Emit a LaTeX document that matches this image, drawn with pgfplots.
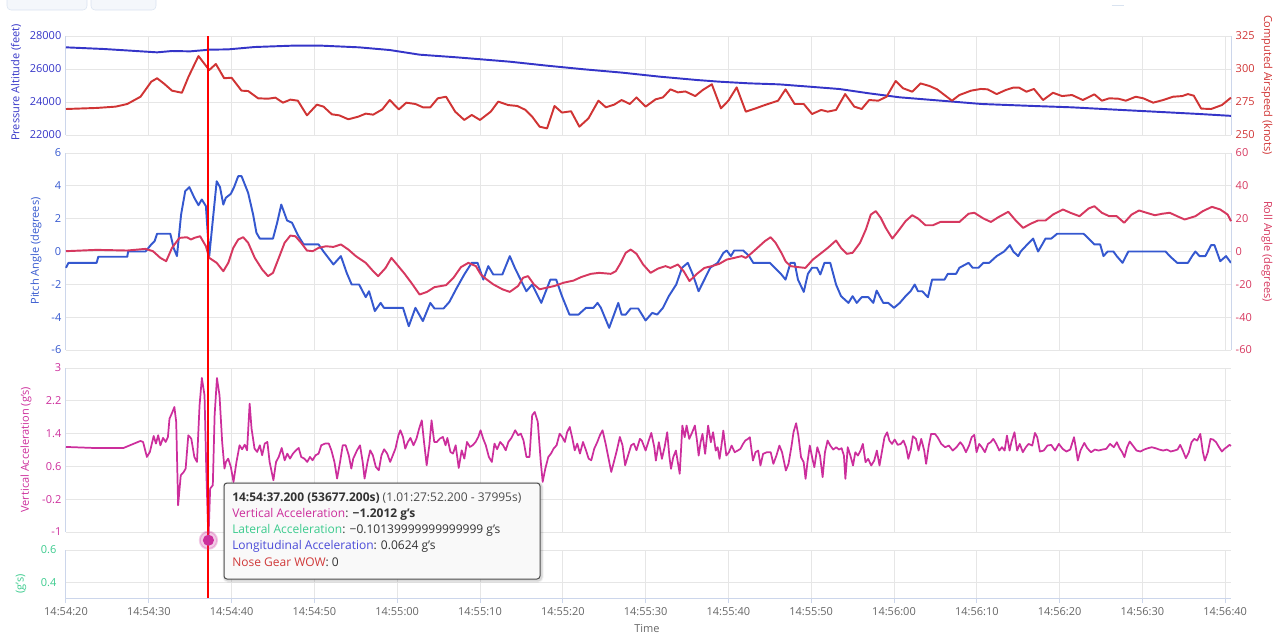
\documentclass[border=0pt]{standalone}
\usepackage{fontspec}
\setmainfont{Open Sans}
\usepackage{pgfplots}
\pgfplotsset{compat=1.18}
\definecolor{altc}{HTML}{3535C8}
\definecolor{iasc}{HTML}{D03434}
\definecolor{pitc}{HTML}{3558CF}
\definecolor{rolc}{HTML}{D6385F}
\definecolor{vacc}{HTML}{CC2E9C}
\definecolor{latc}{HTML}{3CCB8E}
\definecolor{lonc}{HTML}{4A4AD8}
\definecolor{nosec}{HTML}{D03A3A}
\definecolor{gridc}{HTML}{E6E6E6}
\definecolor{axisc}{HTML}{CCD6EB}
\definecolor{tickc}{HTML}{666666}
\definecolor{tipb}{HTML}{4D4D4D}
\definecolor{tipf}{HTML}{F9F9F9}
\definecolor{tipt}{HTML}{333333}
\definecolor{btnf}{HTML}{F4F7FB}
\definecolor{btnb}{HTML}{D9E3F0}
\newcommand{\tickfont}{\fontsize{8.25}{9.5}\selectfont}
\newcommand{\tipfont}{\fontsize{9}{10.5}\selectfont}
\pgfplotsset{
  panel/.style={
    scale only axis, width=873.75pt, anchor=north west,
    xmin=0, xmax=140.7, xtick={0,10,...,140}, xticklabels={},
    xmajorgrids, ymajorgrids,
    major grid style={draw=gridc, line width=0.75pt},
    axis x line*=bottom, axis y line*=left,
    axis line style={-},
    x axis line style={draw=none},
    y axis line style={draw=axisc, line width=0.75pt},
    major tick length=0pt, tick style={draw=none},
    scaled y ticks=false,
    /pgf/number format/assume math mode=true,
    /pgf/number format/1000 sep={},
    ticklabel style={font=\tickfont},
    label style={font=\tickfont},
    every axis plot/.append style={line width=1.45pt, line join=round, mark=none},
    clip=false,
  },
  panelR/.style={
    panel, axis y line*=right, axis x line=none,
    xmajorgrids=false, ymajorgrids=false,
  },
}
\begin{document}
\begin{tikzpicture}
\useasboundingbox (0pt,0pt) rectangle (964.5pt,-477.75pt);
% top controls
\draw[draw=btnb, fill=btnf, rounded corners=3pt] (5.25pt,3pt) rectangle (65.25pt,-7.5pt);
\draw[draw=btnb, fill=btnf, rounded corners=3pt] (68.25pt,3pt) rectangle (117pt,-7.5pt);
\draw[btnb, line width=0.75pt] (833.8pt,-4.3pt) -- (843pt,-4.3pt);

% ---------- panel 1 ----------
\begin{axis}[panel, at={(49.5pt,-27pt)}, height=74.25pt,
  ymin=22000, ymax=28000, ytick={22000,24000,26000,28000},
  yticklabels={22000,24000,26000,28000},
  yticklabel style={color=altc},
  ylabel={Pressure Altitude (feet)},
  ylabel style={at={(axis description cs:-0.0429,0.53)}, anchor=center, color=altc}]
\addplot[altc] table {
0 27313
4.6 27212
11 27010
12.8 27090
15 27070
17.3 27170
19.6 27190
22.8 27333
27.3 27414
30.9 27414
35.4 27313
39.1 27150
42.7 26869
47.2 26707
53.6 26444
58.1 26202
62.6 25980
67.2 25778
71.7 25536
76.2 25333
78.9 25232
82.5 25131
86.1 25070
89.8 24929
93.4 24788
97 24525
100.7 24283
105.2 24100
110.6 23879
116.9 23758
121.5 23677
126 23556
131.5 23414
136.9 23273
140.7 23160
};
\end{axis}
\begin{axis}[panelR, at={(49.5pt,-27pt)}, height=74.25pt,
  ymin=250, ymax=325, ytick={250,275,300,325},
  yticklabel style={color=iasc},
  ylabel={Computed Airspeed (knots)},
  ylabel style={at={(axis description cs:1.0309,0.505)}, anchor=center, rotate=180, color=iasc}]
\addplot[iasc] table {
0 269.7
3.7 270.5
6.0 271.5
7.4 273.5
9.0 279.0
10.3 290.4
11.0 293.0
11.9 288.6
12.8 283.6
14.0 282.0
14.8 294.2
16.0 309.8
17.3 299.2
18.1 303.8
19.1 293.0
20.0 293.4
21.2 283.6
22.0 283.3
23.2 277.8
24.4 277.5
25.3 278.3
26.2 274.5
27.1 276.8
28.0 276.0
29.1 264.9
30.3 273.0
31.1 271.5
32.1 265.7
33.0 264.9
34.1 261.9
35.3 263.9
36.2 266.2
37.1 265.4
38.2 269.4
39.1 276.5
40.2 269.4
41.1 274.5
42.2 273.5
43.1 271.0
44.0 271.0
44.9 277.8
45.9 279.0
47.0 267.7
48.1 261.4
49.0 265.2
50.0 261.4
51.3 267.7
52.2 275.3
53.4 272.7
54.5 272.0
55.5 269.0
56.3 263.9
57.2 256.3
58.1 255.0
59.0 272.0
59.9 267.0
61.0 268.0
62.0 256.3
63.1 262.6
64.3 276.0
65.2 271.0
66.2 273.0
67.1 276.5
68.1 273.5
68.9 278.5
70.0 271.5
71.2 277.0
72.1 278.5
73.0 284.6
73.9 282.3
74.8 283.0
76.0 279.5
76.9 284.1
78.0 288.4
79.1 270.2
80.0 276.0
81.0 286.1
82.1 267.7
83.3 270.2
84.4 272.7
86.0 276.0
86.9 284.6
88.0 273.5
89.1 273.5
90.1 265.9
91.2 269.0
92.0 267.7
93.0 269.0
94.1 281.0
95.2 271.5
96.1 269.7
97.0 276.5
98.1 276.0
99.1 279.0
100.2 290.9
101.1 285.4
102.2 282.8
103.2 289.1
104.3 287.1
105.2 284.6
106.1 280.3
107.0 276.0
107.9 280.3
109.3 283.6
110.5 284.9
111.3 284.6
112.4 281.0
113.5 284.1
114.4 285.9
115.1 285.9
116.0 282.8
116.9 284.9
118.0 276.5
119.2 282.0
120.3 279.5
121.5 280.3
122.8 276.5
124.2 280.8
125.1 276.0
126.0 277.8
127.1 277.5
128.0 276.0
129.2 279.0
130.1 277.8
131.3 274.5
132.5 276.5
133.7 279.0
134.8 279.5
135.5 281.0
136.2 279.8
137.1 270.0
138.3 269.7
139.6 272.7
140.7 278.3
};
\addplot[red, line width=1.5pt] coordinates {(17.2,236.36) (17.2,325)};
\end{axis}

% ---------- panel 2 ----------
\begin{axis}[panel, at={(49.5pt,-114.75pt)}, height=147.75pt,
  ymin=-6, ymax=6, ytick={-6,-4,...,6},
  yticklabel style={color=pitc},
  ylabel={Pitch Angle (degrees)},
  ylabel style={at={(axis description cs:-0.0258,0.503)}, anchor=center, color=pitc}]
\addplot[pitc] table {
0 -0.99
0.3 -0.69
3.7 -0.69
3.9 -0.32
7.4 -0.32
7.5 0
9.6 0
10.3 0.43
10.7 0.63
11.0 1.08
12.6 1.08
13.0 0.22
13.4 -0.28
13.9 2.25
14.4 3.68
14.9 3.92
15.5 3.27
16.0 2.82
16.4 3.17
16.9 2.76
17.3 -0.28
18.2 4.28
18.6 3.92
19.0 2.86
19.3 3.27
19.9 3.51
20.3 3.92
20.8 4.59
21.2 4.59
22.0 3.57
22.6 2.25
23.0 1.14
23.4 0.79
25.0 0.79
25.5 1.75
26.0 2.86
26.7 1.89
27.3 1.75
28.0 1.0
28.7 0.43
30.5 0.43
31.1 0
32.3 -0.79
33.2 -0.28
33.9 -1.30
34.5 -2.01
35.4 -2.01
36.2 -2.78
36.6 -2.42
37.3 -3.63
38.0 -3.13
38.4 -3.43
40.7 -3.43
41.4 -4.55
42.2 -3.43
43.1 -4.24
44.0 -3.13
44.5 -3.47
45.6 -3.47
46.3 -3.07
47.2 -2.21
48.1 -1.40
49.0 -0.69
49.7 -0.69
50.4 -1.71
51.0 -0.89
51.6 -1.40
52.7 -1.40
53.6 -0.28
54.2 -0.99
54.9 -1.71
55.6 -2.42
56.3 -2.01
57.4 -3.13
58.5 -1.71
59.2 -1.71
59.9 -2.72
60.8 -3.84
61.9 -3.84
62.8 -3.43
63.7 -3.43
64.2 -3.13
64.6 -3.43
65.6 -4.65
66.7 -3.13
67.1 -3.84
67.6 -3.84
68.2 -3.47
69.1 -3.47
70.0 -4.20
70.8 -3.74
71.4 -3.84
72.1 -3.43
72.8 -2.72
73.7 -2.01
74.4 -0.99
75.1 -0.69
75.7 -1.40
76.4 -2.42
77.1 -1.71
77.8 -0.99
78.7 -0.69
79.4 -0.08
79.8 0.06
80.3 -0.28
80.7 0.06
81.8 0.06
82.5 -0.28
83.0 -0.69
85.0 -0.69
85.7 -1.04
86.4 -1.40
86.9 -1.71
87.5 -0.69
88.0 -0.69
88.4 -1.71
89.1 -2.46
89.6 -1.36
90.1 -0.99
90.7 -0.99
91.1 -1.40
91.6 -0.69
92.3 -0.69
93.0 -2.01
93.6 -2.72
94.5 -3.13
95.0 -2.72
95.5 -3.13
96.1 -2.78
96.9 -2.78
97.5 -3.13
97.9 -2.38
98.7 -3.13
99.3 -3.13
100.0 -3.43
100.7 -3.13
101.4 -2.72
102.0 -2.42
102.5 -2.01
102.9 -2.42
103.4 -2.42
104.1 -2.78
104.6 -1.71
106.1 -1.71
106.5 -1.36
107.5 -1.36
107.9 -0.99
109.0 -0.69
109.5 -0.99
110.2 -0.99
110.8 -0.69
111.5 -0.69
112.4 -0.28
113.3 0
114.0 0.39
114.4 0
115.0 -0.28
115.3 0
116.1 0.43
116.8 0.79
117.4 0
117.9 0.43
118.3 0.79
119.0 0.79
119.7 1.08
122.9 1.08
123.5 0.79
124.2 0.43
124.9 0.43
125.3 -0.28
125.8 0
126.5 0
126.9 -0.28
127.6 -0.69
128.3 0
132.8 0
133.3 -0.28
134.2 -0.69
135.5 -0.69
136.0 -0.28
136.4 0
136.9 -0.28
137.6 -0.28
138.3 0.39
138.7 0.39
139.4 -0.59
140.1 -0.28
140.7 -0.69
};
\end{axis}
\begin{axis}[panelR, at={(49.5pt,-114.75pt)}, height=147.75pt,
  ymin=-60, ymax=60, ytick={-60,-40,...,60},
  yticklabel style={color=rolc},
  ylabel={Roll Angle (degrees)},
  ylabel style={at={(axis description cs:1.0309,0.5)}, anchor=center, rotate=180, color=rolc}]
\addplot[rolc] table {
0 0.2
3.7 1.0
7.4 0.6
9.6 1.6
10.5 0.2
11.4 -3.9
12.1 -5.9
12.8 2.2
13.7 8.3
14.6 8.7
15.1 7.3
15.5 8.3
16.2 9.3
16.9 3.2
17.3 -3.9
18.2 -6.9
19.0 -12.0
19.6 -6.9
20.2 2.2
20.8 7.3
21.4 8.7
22.0 5.3
22.8 -3.9
23.7 -11.0
24.4 -15.0
25.0 -13.0
25.7 -3.9
26.4 5.3
27.1 9.7
27.7 9.3
28.4 5.3
29.1 0.6
29.8 0.2
30.5 2.2
31.4 3.2
32.3 2.8
33.2 4.3
34.1 1.2
35.0 -2.8
36.2 -6.9
37.1 -12.0
37.7 -15.0
38.6 -10.0
39.3 -3.9
39.9 -7.5
40.9 -13.6
41.8 -19.7
42.7 -26.2
43.6 -24.6
44.5 -21.7
45.9 -20.5
46.8 -16.0
47.7 -9.5
48.6 -6.9
49.5 -8.9
50.1 -14.0
50.8 -17.0
51.6 -20.0
52.7 -23.0
53.6 -24.6
54.6 -21.0
55.2 -16.0
55.8 -15.0
56.5 -20.0
57.2 -23.0
58.1 -22.0
59.0 -21.0
60.1 -19.0
61.3 -17.7
62.2 -15.6
63.4 -13.6
64.4 -13.0
65.8 -13.6
66.4 -12.0
67.0 -6.9
67.6 -0.8
68.2 1.2
68.9 -1.4
69.7 -7.9
70.6 -13.0
71.5 -10.4
72.4 -8.9
73.0 -10.0
73.9 -7.9
74.6 -12.0
75.3 -18.0
76.2 -13.6
77.1 -10.0
78.0 -8.9
78.9 -7.5
79.8 -4.9
80.7 -3.9
81.6 -2.8
82.1 -3.9
82.7 -1.4
83.5 2.2
84.4 6.3
85.1 8.7
85.7 5.3
86.4 -0.8
86.9 -5.9
87.5 -8.9
88.4 -9.5
89.3 -10.0
90.2 -4.9
91.1 -1.4
92.0 2.2
93.0 6.7
93.6 2.2
94.3 -1.4
95.0 -0.8
95.9 5.3
96.6 13.4
97.2 22.5
97.8 24.6
98.4 20.5
99.0 14.4
99.8 7.9
100.5 12.4
101.4 18.5
102.2 22.1
102.9 20.1
103.8 16.0
104.7 16.0
105.6 18.0
107.9 18.0
109.0 23.0
109.7 23.6
110.8 20.1
111.7 18.0
112.6 20.9
113.8 24.2
114.7 18.9
115.6 14.4
116.5 16.9
117.4 18.9
118.3 18.9
119.2 22.5
120.4 25.6
121.3 23.6
122.4 21.5
123.5 26.2
124.2 27.6
125.1 23.6
126.0 21.5
126.9 21.5
127.8 17.5
128.7 22.5
129.6 25.0
130.5 23.6
131.5 22.1
132.4 23.0
133.3 23.6
134.2 21.5
135.1 19.5
136.4 21.5
137.3 24.6
138.4 27.2
139.4 25.6
140.3 22.5
140.7 18.5
};
\addplot[red, line width=1.5pt] coordinates {(17.2,-70.96) (17.2,60)};
\end{axis}

% ---------- panel 3 ----------
\begin{axis}[panel, at={(49.5pt,-276pt)}, height=123pt,
  ymin=-1, ymax=3, ytick={-1,-0.2,0.6,1.4,2.2,3},
  yticklabels={-1,-0.2,0.6,1.4,2.2,3},
  yticklabel style={color=vacc},
  ylabel={Vertical Acceleration (g's)},
  ylabel style={at={(axis description cs:-0.0343,0.502)}, anchor=center, color=vacc}]
\addplot[vacc, line width=1.3pt] table {
0.0 1.075
3.31 1.050
6.95 1.050
8.99 1.221
9.31 1.196
9.77 0.831
10.13 0.953
10.59 1.342
10.86 1.156
11.13 1.359
11.40 1.115
11.72 1.294
12.04 1.196
12.31 1.318
12.50 1.765
12.77 1.887
13.09 2.049
13.31 1.684
13.54 -0.347
13.86 0.384
14.22 0.465
14.45 0.547
14.77 1.359
15.13 1.278
15.50 0.831
15.82 0.709
16.13 2.090
16.41 2.756
16.73 2.334
16.95 0.465
17.2 -1.2012
17.41 0.059
17.73 0.140
17.95 1.846
18.23 2.756
18.54 2.334
18.86 1.196
19.14 0.547
19.32 0.709
19.59 0.790
19.91 0.587
20.23 0.222
20.59 0.709
20.96 1.115
21.27 1.018
21.59 1.131
21.87 0.993
22.18 2.131
22.41 1.521
22.77 1.034
23.09 0.953
23.41 1.115
23.69 0.871
24.00 1.156
24.32 1.196
24.59 0.709
25.05 0.262
25.37 0.709
25.69 0.831
26.05 1.050
26.41 0.750
26.73 0.912
27.05 0.790
27.41 0.912
27.78 0.993
28.10 1.050
28.41 0.831
28.78 0.790
29.14 0.709
29.46 0.831
29.78 0.750
30.14 0.871
30.51 0.912
30.83 1.115
31.28 1.156
31.74 1.156
32.05 0.993
32.42 0.709
32.74 0.303
33.10 0.709
33.42 1.115
33.78 1.115
34.15 0.871
34.46 0.547
34.69 0.790
35.15 0.993
35.51 1.115
35.83 0.709
36.06 0.303
36.42 0.709
36.74 0.993
37.06 0.871
37.42 0.587
37.78 0.506
38.10 0.871
38.42 1.018
38.79 0.912
39.15 0.709
39.47 0.871
39.79 1.034
40.15 1.359
40.38 1.481
40.70 1.318
40.97 1.034
41.29 1.196
41.60 1.294
41.97 1.115
42.33 1.278
42.65 1.521
42.97 1.724
43.24 1.196
43.56 0.628
43.88 1.115
44.15 1.724
44.47 1.196
44.79 1.196
45.15 1.278
45.52 1.318
45.84 1.115
46.06 1.294
46.43 0.953
46.74 0.912
47.06 1.115
47.43 0.563
47.79 0.993
48.11 0.790
48.43 1.196
48.79 1.075
49.11 1.115
49.47 1.196
49.79 1.318
50.07 1.481
50.38 1.278
50.70 1.115
51.07 0.831
51.43 0.709
51.75 1.156
52.07 1.018
52.43 1.196
52.79 1.115
53.11 0.993
53.43 1.196
53.79 1.294
54.25 1.481
54.61 1.359
54.93 1.399
55.25 1.237
55.61 0.831
55.98 0.831
56.30 1.846
56.61 1.928
56.98 1.684
57.34 0.709
57.57 0.222
57.89 0.547
58.25 0.831
58.57 0.912
58.89 1.034
59.25 1.115
59.62 1.399
59.93 1.318
60.25 1.196
60.53 1.440
60.84 1.562
61.16 1.278
61.44 0.993
61.75 1.156
62.07 0.912
62.44 1.196
62.80 0.993
63.12 0.790
63.44 0.750
63.80 1.034
64.17 1.196
64.48 1.359
64.80 1.481
65.17 1.156
65.53 0.790
65.85 0.465
66.17 0.709
66.53 0.993
66.89 1.318
67.21 1.115
67.53 0.628
67.89 0.871
68.26 1.115
68.58 1.156
68.90 0.993
69.31 1.271
69.54 1.231
70.00 0.987
70.32 1.190
70.69 1.417
71.05 1.068
71.24 0.743
71.60 1.190
71.97 0.784
72.29 1.068
72.61 1.433
72.88 0.825
73.07 0.541
73.34 0.825
73.66 0.987
73.89 0.703
74.12 0.419
74.44 1.596
74.72 1.312
74.95 1.596
75.27 1.271
75.63 1.433
75.95 1.596
76.18 1.271
76.41 0.865
76.64 1.190
76.87 1.393
77.19 0.906
77.55 1.596
77.88 1.190
78.15 1.433
78.47 0.987
78.70 1.068
78.93 0.784
79.16 1.109
79.39 1.474
79.75 0.865
80.07 0.946
80.39 1.109
80.76 0.946
81.13 0.987
81.45 1.028
81.77 1.149
82.04 1.231
82.36 1.271
82.59 1.312
82.96 0.743
83.28 0.946
83.60 0.987
83.87 0.622
84.19 0.906
84.65 0.946
85.11 0.946
85.43 0.662
85.80 0.865
86.16 1.109
86.48 0.946
86.94 0.500
87.26 0.662
87.63 1.109
87.86 1.433
88.18 1.653
88.45 1.352
88.77 0.825
89.09 0.703
89.32 0.297
89.55 0.703
89.83 1.109
90.15 0.784
90.38 0.581
90.74 1.068
91.06 0.865
91.38 0.338
91.66 0.946
91.98 1.231
92.30 1.109
92.66 1.011
93.03 1.068
93.35 1.011
93.67 1.044
93.95 0.865
94.13 0.297
94.41 1.068
94.73 0.865
95.05 0.622
95.33 0.946
95.64 0.865
95.96 0.987
96.24 1.149
96.56 0.703
96.88 0.784
97.25 0.622
97.61 0.743
97.93 0.987
98.25 0.622
98.53 0.946
98.85 1.312
99.17 1.433
99.44 1.231
99.76 1.149
100.08 1.255
100.45 1.125
100.81 1.149
101.14 1.231
101.46 1.068
101.73 0.784
102.05 1.028
102.28 1.336
102.65 1.271
102.97 0.987
103.29 1.271
103.65 0.987
103.88 0.662
104.20 1.109
104.48 1.393
104.94 1.393
105.26 1.312
105.71 1.149
106.17 1.068
106.63 1.109
107.09 0.987
107.55 1.068
108.00 1.190
108.32 1.109
108.69 0.946
109.06 1.109
109.38 1.312
109.70 1.368
109.97 0.946
110.29 1.149
110.61 1.068
110.98 0.946
111.35 1.149
111.67 1.190
111.99 1.271
112.35 1.149
112.72 0.987
113.04 1.068
113.36 0.987
113.64 1.352
113.96 0.987
114.18 1.190
114.55 1.433
114.87 0.987
115.19 1.149
115.56 0.946
115.92 1.068
116.25 1.149
116.70 1.109
117.02 1.417
117.30 1.312
117.62 0.963
118.08 0.987
118.53 1.109
118.99 1.125
119.45 0.987
119.91 1.149
120.37 1.028
120.82 0.963
121.28 1.011
121.74 1.312
121.97 1.044
122.20 0.743
122.52 0.987
122.98 1.174
123.34 1.044
123.80 0.946
124.26 1.011
124.72 0.987
125.17 1.011
125.63 1.028
126.09 1.149
126.55 1.068
126.91 1.190
127.24 1.044
127.56 0.946
127.83 0.825
128.15 1.068
128.47 1.206
128.84 1.109
129.29 0.987
129.75 0.963
130.21 1.011
130.67 1.044
131.13 1.068
131.58 1.044
132.04 1.011
132.50 0.987
132.96 1.011
133.42 0.963
133.88 0.987
134.24 1.011
134.56 1.125
134.88 0.987
135.25 0.800
135.61 0.946
135.93 1.190
136.26 1.271
136.62 1.231
136.99 1.393
137.31 0.946
137.54 0.743
137.90 0.946
138.22 1.271
138.54 1.255
138.90 1.190
139.26 1.068
139.60 0.963
139.90 1.028
140.18 1.068
140.51 1.125
140.7 1.100
};
\addplot[red, line width=1.5pt] coordinates {(17.2,-1.439) (17.2,3)};
\addplot[only marks, mark=*, mark size=6.5pt, color=vacc, opacity=0.25, mark options={draw=none}] coordinates {(17.2,-1.2012)};
\addplot[only marks, mark=*, mark size=3.4pt, color=vacc] coordinates {(17.2,-1.2012)};
\end{axis}

% ---------- panel 4 ----------
\begin{axis}[panel, at={(49.5pt,-412.5pt)}, height=36pt,
  ymin=0.309, ymax=0.6, ytick={0.4,0.6},
  yticklabels={0.4,0.6},
  yticklabel style={color=latc},
  x axis line style={draw=axisc, line width=0.75pt},
  xtick style={draw=axisc, line width=0.75pt},
  major tick length=3.75pt, tick align=outside,
  xticklabels={14:54:20,14:54:30,14:54:40,14:54:50,14:55:00,14:55:10,14:55:20,14:55:30,14:55:40,14:55:50,14:56:00,14:56:10,14:56:20,14:56:30,14:56:40},
  xticklabel style={color=tickc},
  xlabel={Time},
  xlabel style={at={(axis description cs:0.4987,-0.646)}, anchor=center, color=tickc},
  ylabel={(g's)},
  ylabel style={at={(axis description cs:-0.0386,0.29)}, anchor=center, color=latc},
  clip=true]
\addplot[red, line width=1.5pt] coordinates {(17.2,0.309) (17.2,0.6)};
\end{axis}

% ---------- tooltip ----------
\draw[black, opacity=0.05, line width=3.75pt, rounded corners=2.25pt] (168.75pt,-363pt) rectangle (405.75pt,-435pt);
\draw[black, opacity=0.10, line width=2.25pt, rounded corners=2.25pt] (168.75pt,-363pt) rectangle (405.75pt,-435pt);
\draw[draw=tipb, fill=tipf, line width=0.75pt, rounded corners=2.25pt] (168pt,-362.25pt) rectangle (405pt,-434.25pt);
\begin{scope}[every node/.style={anchor=base west, inner sep=0pt, font=\tipfont, text=tipt}]
\node at (174pt,-375.75pt) {\textbf{14:54:37.200 (53677.200s)} \textcolor{black!70}{(1.01:27:52.200 - 37995s)}};
\node at (174pt,-387.94pt) {\textcolor{vacc}{Vertical Acceleration}: \textbf{−1.2012 g's}};
\node at (174pt,-400.13pt) {\textcolor{latc}{Lateral Acceleration}: −0.10139999999999999 g's};
\node at (174pt,-412.31pt) {\textcolor{lonc}{Longitudinal Acceleration}: 0.0624 g's};
\node at (174pt,-424.5pt) {\textcolor{nosec}{Nose Gear WOW}: 0};
\end{scope}
\end{tikzpicture}
\end{document}
